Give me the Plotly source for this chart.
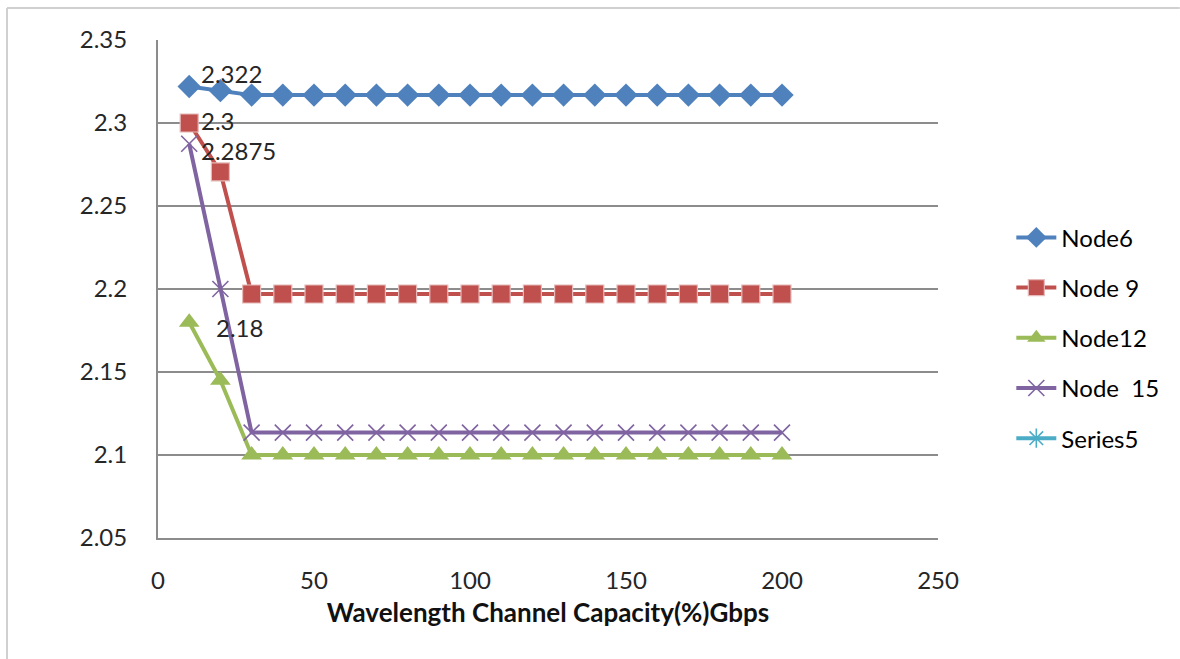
import plotly.graph_objects as go

capacity = [10, 20, 30, 40, 50, 60, 70, 80, 90, 100, 110, 120, 130, 140, 150, 160, 170, 180, 190, 200]
node6 = [2.322, 2.3195] + [2.3168] * 18
node9 = [2.3, 2.2705] + [2.197] * 18
node12 = [2.18, 2.145] + [2.1] * 18
node15 = [2.2875, 2.2] + [2.1135] * 18
series5 = [None] * 20

yticks = [2.05, 2.1, 2.15, 2.2, 2.25, 2.3, 2.35]
ytick_text = ["2.05", "2.1", "2.15", "2.2", "2.25", "2.3", "2.35"]
xticks = [0, 50, 100, 150, 200, 250]

FONT = "Lato"
TXT = "#262626"
FS = 24

fig = go.Figure()
fig.add_trace(go.Scatter(x=capacity, y=node6, name="Node6", mode="lines+markers",
                         line=dict(color="#4F81BD", width=4),
                         marker=dict(symbol="diamond", size=18, color="#4F81BD"),
                         legendgroup="a"))
fig.add_trace(go.Scatter(x=capacity, y=node9, name="Node 9", mode="lines+markers",
                         line=dict(color="#C0504D", width=4),
                         marker=dict(symbol="square", size=18, color="#C0504D",
                                     line=dict(color="#E6B9B8", width=1.2)),
                         legendgroup="b"))
fig.add_trace(go.Scatter(x=capacity, y=node12, name="Node12", mode="lines+markers",
                         line=dict(color="#9BBB59", width=4),
                         marker=dict(symbol="triangle-up", size=18, color="#9BBB59"),
                         legendgroup="c"))
fig.add_trace(go.Scatter(x=capacity, y=node15, name="Node  15", mode="lines+markers",
                         line=dict(color="#8064A2", width=4),
                         marker=dict(symbol="x-thin", size=16, color="#8064A2",
                                     line=dict(color="#8064A2", width=1.6)),
                         legendgroup="d"))
fig.add_trace(go.Scatter(x=capacity, y=series5, name="Series5", mode="lines+markers",
                         line=dict(color="#4BACC6", width=4),
                         marker=dict(symbol="asterisk", size=16, color="#4BACC6",
                                     line=dict(color="#4BACC6", width=1.6)),
                         legendgroup="e"))

labels = [
    (capacity[0], node6[0], "2.322", 10, 13),
    (capacity[0], node9[0], "2.3", 10, 3),
    (capacity[0], node15[0], "2.2875", 10, -7),
    (capacity[0], node12[0], "2.18", 25, -5),
]
for x, y, t, xs, ys in labels:
    fig.add_annotation(x=x, y=y, text=t, showarrow=False, xanchor="left", yanchor="middle",
                       xshift=xs, yshift=ys, font=dict(family=FONT, size=FS, color=TXT))

# outer chart border (top and left visible)
fig.add_shape(type="line", xref="paper", yref="paper", x0=-0.1936, x1=1.31, y0=1.0643, y1=1.0643,
              line=dict(color="#D0D0D0", width=2))
fig.add_shape(type="line", xref="paper", yref="paper", x0=-0.1936, x1=-0.1936, y0=1.0643, y1=-0.25,
              line=dict(color="#D0D0D0", width=2))

fig.update_layout(
    width=1180, height=659,
    margin=dict(l=158, r=242, t=40, b=121),
    paper_bgcolor="white", plot_bgcolor="white",
    font=dict(family=FONT, size=FS, color=TXT),
    showlegend=True,
    legend=dict(x=1.094, y=0.648, xanchor="left", yanchor="top",
                font=dict(family=FONT, size=FS, color="#000000"),
                tracegroupgap=16, itemwidth=40, bgcolor="rgba(0,0,0,0)"),
    xaxis=dict(range=[0, 250], tickvals=xticks, showgrid=False, zeroline=False,
               showline=True, linecolor="#8C8C8C", linewidth=2, ticks="",
               ticklabelstandoff=20,
               title=dict(text="<b>Wavelength Channel Capacity(%)Gbps</b>",
                          font=dict(family=FONT, size=26, color="#111111"), standoff=11)),
    yaxis=dict(range=[2.05, 2.35], tickvals=yticks, ticktext=ytick_text,
               showgrid=True, gridcolor="#8C8C8C", gridwidth=2, zeroline=False,
               showline=True, linecolor="#8C8C8C", linewidth=2, ticks="",
               ticklabelstandoff=24),
)

fig.write_html("out.html")
